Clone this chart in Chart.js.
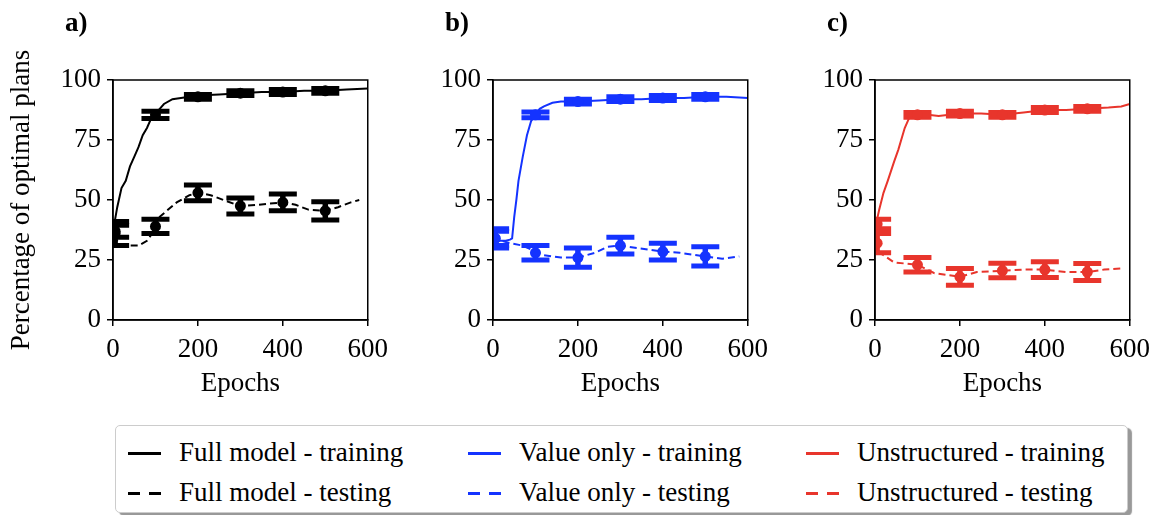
<!DOCTYPE html>
<html>
<head>
<meta charset="utf-8">
<script src="https://cdn.jsdelivr.net/npm/chart.js@4.4.1/dist/chart.umd.min.js"></script>
<style>
  body { margin:0; width:1153px; height:515px; background:#fff; position:relative; overflow:hidden;
         font-family:'Liberation Serif','DejaVu Serif',serif; }
  canvas.panel { position:absolute; top:0; }
  #legend { position:absolute; left:115px; top:425px; width:1011px; height:86px; background:#fff;
            border:1.5px solid #ccc; border-radius:5px; box-shadow:4px 3px 1px #999; }
  .txt { position:absolute; font-size:27px; line-height:30px; white-space:nowrap; color:#000; }
  .sample { position:absolute; width:33px; height:2.5px; }
</style>
</head>
<body>
<canvas id="chartA" class="panel" width="396" height="400" style="left:0px"></canvas>
<canvas id="chartB" class="panel" width="396" height="400" style="left:380px"></canvas>
<canvas id="chartC" class="panel" width="396" height="400" style="left:762px"></canvas>
<div id="legend"></div>
<script>
// x ticks / y ticks
const epochTicks = [0, 200, 400, 600];
const pctTicks = [0, 25, 50, 75, 100];
// epochs where error bars sit
const errEpochs = [5, 100, 200, 300, 400, 500];

// a) Full model
const aTrainX = [0,10,20,30,40,50,60,70,80,90,100,110,120,140,160,180,200,250,300,350,400,450,500,550,600];
const aTrainY = [37,47,55,58,64,68,72,77,80,84,86,88,90,92,92.5,93,93.5,94,94.5,95,95,95.5,95.5,96,96.5];
const aTestX = [0,10,20,40,60,80,100,110,130,150,180,200,230,260,300,340,370,400,430,460,500,530,560,580];
const aTestY = [35,33,31,31,31,33,38,43,46,49,52,53,52,50,47.5,48,48.5,49,48,46,45.5,47,49,50];
const aTrainErr = [37,85.5,93,94.5,95,95.5];
const aTrainErrSize = [2.5,1.5,1,1,1,1];
const aTestErr = [36,39,53,47.5,49,45.5];
const aTestErrSize = [5,3,3.3,3.3,3.5,3.8];

// b) Value only
const bTrainX = [0,10,20,30,40,45,50,55,60,65,70,80,90,100,110,120,140,160,200,250,300,350,400,450,500,550,600];
const bTrainY = [33,33,33,33,33.5,34,43,50,58,63,68,77,83,85.5,88,89,90.5,91,91,91.5,92,92,92.5,92.5,93,93,92.5];
const bTestX = [0,20,40,70,100,120,160,200,240,270,300,340,400,440,500,540,580];
const bTestY = [35,33,32,31,28.5,27,26,26,28,30.5,31,30,28.5,28,26.5,25.5,26.5];
const bTrainErr = [34,85.5,91,92,92.5,93];
const bTrainErrSize = [4,1.2,1,1,1,1];
const bTestErr = [34,28,26,31,28.5,26.5];
const bTestErrSize = [3,3,4,3.5,3.5,4];

// c) Unstructured
const cTrainX = [0,10,20,30,45,55,70,80,100,150,200,250,300,350,400,450,500,550,580,600];
const cTrainY = [38,46,53,58,66,71,80,84,86,85,86,86,85.5,86.5,87.5,87.5,88,88.5,89,90];
const cTestX = [0,10,20,45,100,140,200,240,300,350,400,450,500,540,580];
const cTestY = [33,28,27,24,23,19.5,18,20,20.5,21,21,20,20,21,21.5];
const cTrainErr = [40,85.5,86,85.5,87.5,88];
const cTrainErrSize = [2,1,1,1,1,1];
const cTestErr = [32,23,18,20.6,21,20];
const cTestErrSize = [4,3,3.5,3,3.3,3.5];

const modelNames = ['Full model', 'Value only', 'Unstructured'];
const modelColors = ['#000000', '#1433ff', '#e8352c'];

const FONT = "'Liberation Serif','DejaVu Serif',serif";
const DASH = [7, 4];

function pts(xs, ys){ return xs.map((x, i) => ({x: x, y: ys[i]})); }

function makePanel(id, letter, color, train, test, errs, showTitle){
  // draws error bars, the full frame and the panel letter
  const deco = {
    id: 'deco_' + id,
    afterDatasetsDraw(chart){
      const {ctx, chartArea: a, scales: {x, y}} = chart;
      ctx.save();
      ctx.beginPath();
      ctx.rect(a.left, a.top, a.right - a.left, a.bottom - a.top);
      ctx.clip();
      ctx.strokeStyle = color;
      ctx.fillStyle = color;
      errs.forEach(e => {
        e.mean.forEach((m, i) => {
          const px = x.getPixelForValue(errEpochs[i]);
          const lo = y.getPixelForValue(m - e.size[i]);
          const hi = y.getPixelForValue(m + e.size[i]);
          ctx.lineWidth = 5.5;
          ctx.beginPath();
          ctx.moveTo(px, lo); ctx.lineTo(px, hi);
          ctx.stroke();
          ctx.lineWidth = 5;
          ctx.beginPath();
          ctx.moveTo(px - 14, lo); ctx.lineTo(px + 14, lo);
          ctx.moveTo(px - 14, hi); ctx.lineTo(px + 14, hi);
          ctx.stroke();
          ctx.beginPath();
          ctx.arc(px, y.getPixelForValue(m), 5.5, 0, Math.PI * 2);
          ctx.fill();
        });
      });
      ctx.restore();

      ctx.save();
      ctx.strokeStyle = '#000';
      ctx.lineWidth = 1.5;
      ctx.strokeRect(a.left, a.top, a.right - a.left, a.bottom - a.top);
      ctx.fillStyle = '#000';
      ctx.font = 'bold 27px ' + FONT;
      ctx.textBaseline = 'middle';
      ctx.fillText(letter, a.left - 48, 24);
      ctx.restore();
    }
  };

  const axisGrid = { drawOnChartArea: false, tickLength: 6, color: '#000', lineWidth: 1.5 };
  const tickFont = { family: FONT, size: 27 };

  return new Chart(document.getElementById(id), {
    type: 'line',
    data: {
      datasets: [
        { data: pts(train[0], train[1]), borderColor: color, borderWidth: 2, pointRadius: 0, tension: 0 },
        { data: pts(test[0], test[1]), borderColor: color, borderWidth: 2, borderDash: DASH, pointRadius: 0, tension: 0 }
      ]
    },
    options: {
      responsive: false,
      animation: false,
      devicePixelRatio: 1,
      layout: { padding: { top: 80, right: 20, bottom: 0, left: 0 } },
      plugins: { legend: { display: false }, tooltip: { enabled: false } },
      scales: {
        x: {
          type: 'linear', min: 0, max: 600,
          afterBuildTicks: s => { s.ticks = epochTicks.map(v => ({value: v})); },
          afterFit: s => { s.height = 80; },
          grid: axisGrid,
          border: { color: '#000', width: 1.5 },
          ticks: { color: '#000', font: tickFont, padding: 8, maxRotation: 0 },
          title: { display: true, text: 'Epochs', color: '#000', font: { family: FONT, size: 27 }, padding: { top: 0, bottom: 0 } }
        },
        y: {
          min: 0, max: 100,
          afterBuildTicks: s => { s.ticks = pctTicks.map(v => ({value: v})); },
          afterFit: s => { s.width = 113; },
          grid: axisGrid,
          border: { color: '#000', width: 1.5 },
          ticks: { color: '#000', font: tickFont, padding: 6 },
          title: { display: showTitle, text: 'Percentage of optimal plans', color: '#000',
                   font: { family: FONT, size: 27 }, padding: { top: 6, bottom: 0 } }
        }
      }
    },
    plugins: [deco]
  });
}

makePanel('chartA', 'a)', modelColors[0], [aTrainX, aTrainY], [aTestX, aTestY],
  [{mean: aTrainErr, size: aTrainErrSize}, {mean: aTestErr, size: aTestErrSize}], true);
makePanel('chartB', 'b)', modelColors[1], [bTrainX, bTrainY], [bTestX, bTestY],
  [{mean: bTrainErr, size: bTrainErrSize}, {mean: bTestErr, size: bTestErrSize}], false);
makePanel('chartC', 'c)', modelColors[2], [cTrainX, cTrainY], [cTestX, cTestY],
  [{mean: cTrainErr, size: cTrainErrSize}, {mean: cTestErr, size: cTestErrSize}], false);

// shared legend, 3 columns x 2 rows
const legend = document.getElementById('legend');
const colX = [12, 352, 690];
const rowY = [27, 67];
modelNames.forEach((name, c) => {
  ['training', 'testing'].forEach((kind, r) => {
    const col = modelColors[c];
    const s = document.createElement('div');
    s.className = 'sample';
    s.style.left = colX[c] + 'px';
    s.style.top = (rowY[r] - 1) + 'px';
    s.style.background = r === 0 ? col
      : 'repeating-linear-gradient(to right,' + col + ' 0 12px,transparent 12px 21px)';
    legend.appendChild(s);
    const t = document.createElement('div');
    t.className = 'txt';
    t.style.left = (colX[c] + 51) + 'px';
    t.style.top = (rowY[r] - 16) + 'px';
    t.textContent = name + ' - ' + kind;
    legend.appendChild(t);
  });
});
</script>
</body>
</html>
